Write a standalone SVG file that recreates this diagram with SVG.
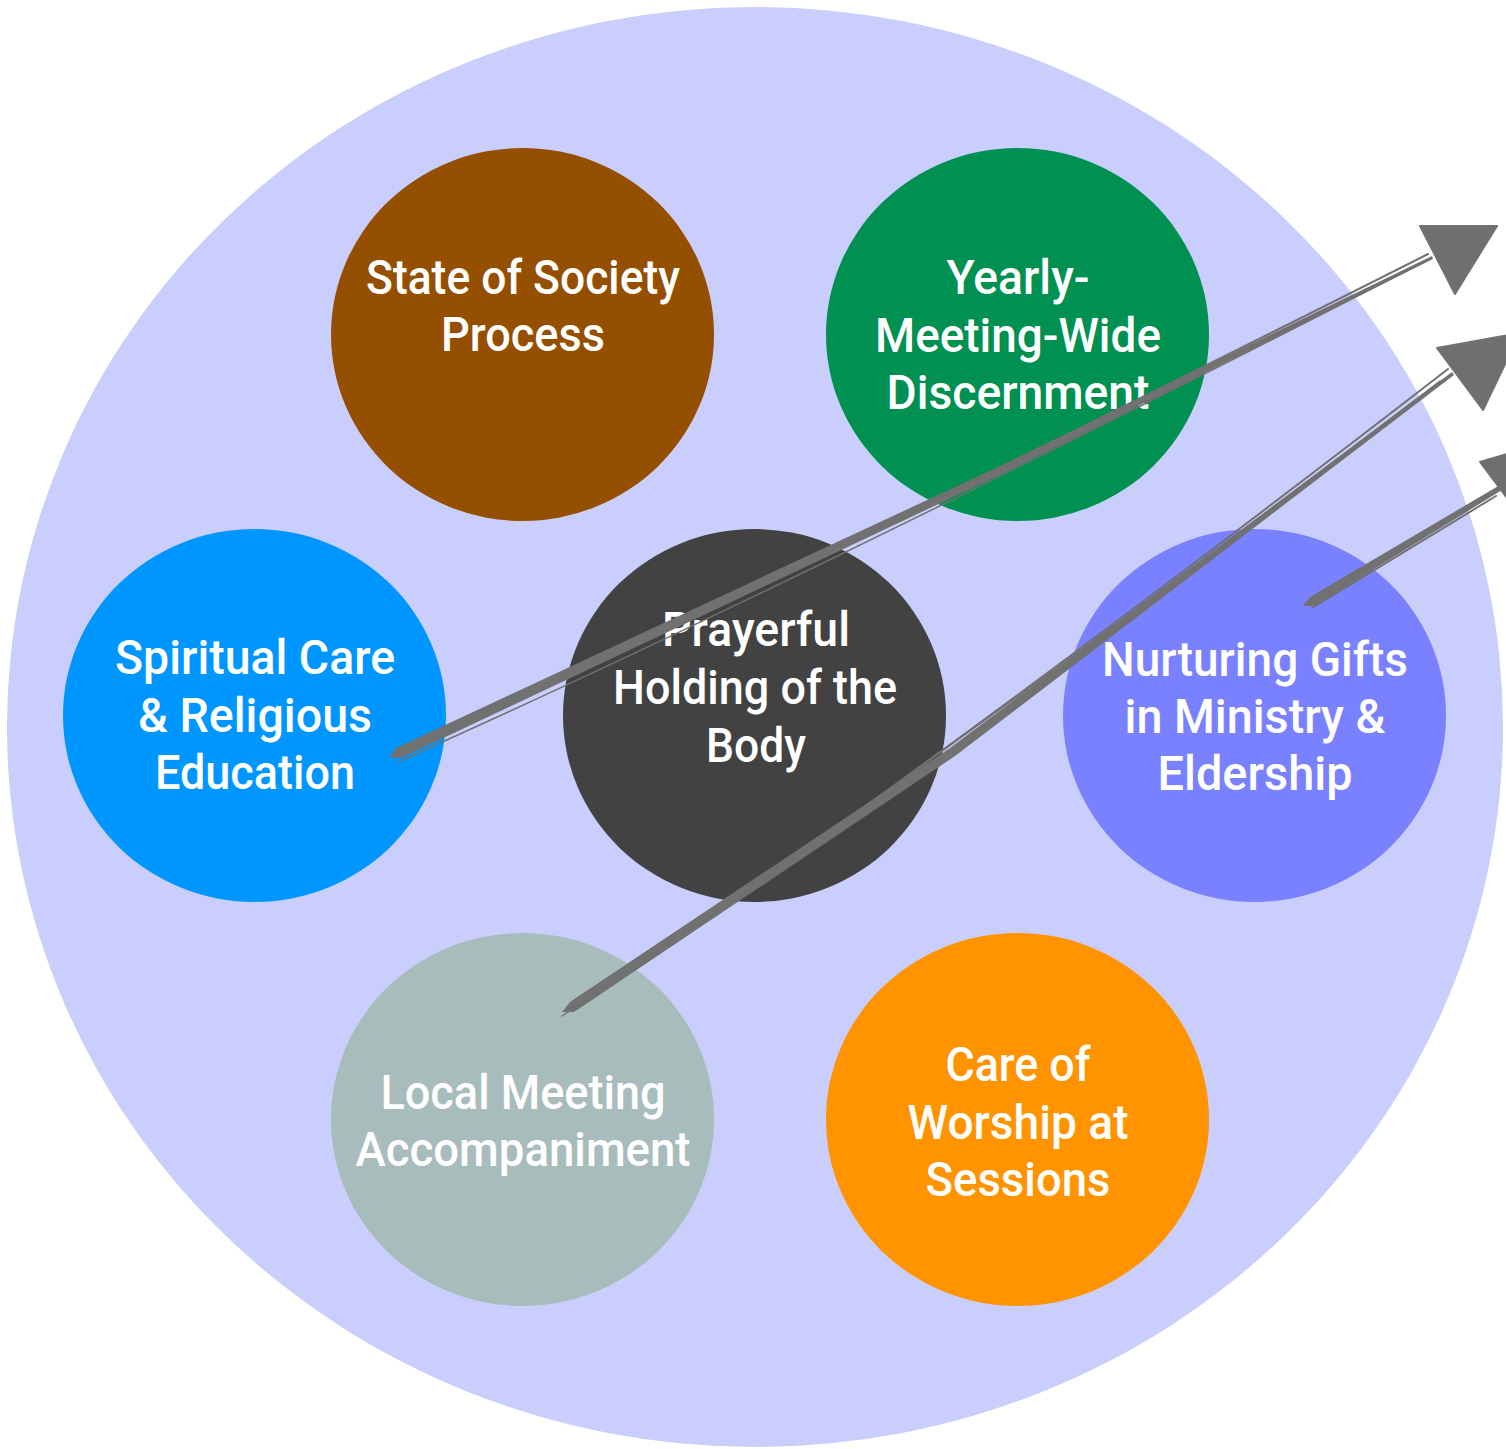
<svg xmlns="http://www.w3.org/2000/svg" width="1506" height="1449" viewBox="0 0 1506 1449">
<style>
.t{font-family:Roboto,"DejaVu Sans",sans-serif;font-weight:500;font-size:48px;fill:#ffffff;text-anchor:middle}
.ln{fill:none;stroke:#717171;stroke-linecap:round}
.tp{fill:#717171;stroke:none}
.ah{fill:#6f6f6f;stroke:#717171;stroke-width:2;stroke-linejoin:round}
</style>
<rect width="1506" height="1449" fill="#ffffff"/>
<ellipse id="outer" cx="755" cy="727" rx="748" ry="720" fill="#cacefd"/>
<g id="n-state"><ellipse cx="522.5" cy="334.5" rx="191.5" ry="186.5" fill="#944f00"/>
<text class="t" x="523" y="294" textLength="314" lengthAdjust="spacingAndGlyphs">State of Society</text>
<text class="t" x="523" y="351" textLength="164" lengthAdjust="spacingAndGlyphs">Process</text></g>
<g id="n-yearly"><ellipse cx="1017.5" cy="334.5" rx="191.5" ry="186.5" fill="#009051"/>
<text class="t" x="1018" y="294" textLength="143" lengthAdjust="spacingAndGlyphs">Yearly-</text>
<text class="t" x="1018" y="352" textLength="286" lengthAdjust="spacingAndGlyphs">Meeting-Wide</text>
<text class="t" x="1018" y="409" textLength="263" lengthAdjust="spacingAndGlyphs">Discernment</text></g>
<g id="n-spiritual"><ellipse cx="254.5" cy="715.5" rx="191.5" ry="186.5" fill="#0096ff"/>
<text class="t" x="255" y="674" textLength="280" lengthAdjust="spacingAndGlyphs">Spiritual Care</text>
<text class="t" x="255" y="732" textLength="234" lengthAdjust="spacingAndGlyphs">&amp; Religious</text>
<text class="t" x="255" y="789" textLength="200" lengthAdjust="spacingAndGlyphs">Education</text></g>
<g id="n-prayerful"><ellipse cx="754.5" cy="715.5" rx="191.5" ry="186.5" fill="#424242"/>
<text class="t" x="756" y="646" textLength="188" lengthAdjust="spacingAndGlyphs">Prayerful</text>
<text class="t" x="755" y="704" textLength="284" lengthAdjust="spacingAndGlyphs">Holding of the</text>
<text class="t" x="756" y="762" textLength="100" lengthAdjust="spacingAndGlyphs">Body</text></g>
<g id="n-nurturing"><ellipse cx="1254.5" cy="715.5" rx="191.5" ry="186.5" fill="#7a81ff"/>
<text class="t" x="1255" y="676" textLength="306" lengthAdjust="spacingAndGlyphs">Nurturing Gifts</text>
<text class="t" x="1255" y="733" textLength="261" lengthAdjust="spacingAndGlyphs">in Ministry &amp;</text>
<text class="t" x="1255" y="790" textLength="195" lengthAdjust="spacingAndGlyphs">Eldership</text></g>
<g id="n-local"><ellipse cx="522.5" cy="1119.5" rx="191.5" ry="186.5" fill="#a9bcbc"/>
<text class="t" x="523" y="1109" textLength="285" lengthAdjust="spacingAndGlyphs">Local Meeting</text>
<text class="t" x="523" y="1166" textLength="335" lengthAdjust="spacingAndGlyphs">Accompaniment</text></g>
<g id="n-worship"><ellipse cx="1017.5" cy="1119.5" rx="191.5" ry="186.5" fill="#ff9300"/>
<text class="t" x="1018" y="1081" textLength="145" lengthAdjust="spacingAndGlyphs">Care of</text>
<text class="t" x="1018" y="1139" textLength="221" lengthAdjust="spacingAndGlyphs">Worship at</text>
<text class="t" x="1018" y="1196" textLength="185" lengthAdjust="spacingAndGlyphs">Sessions</text></g>
<g id="connectors">
<polygon class="tp" points="389,757 396,748 1000,466 1432,256 1433,259 1002,474 401,758"/>
<path class="ln" stroke-width="2" d="M405,752 Q810,566 1428,254"/>
<path class="ln" stroke-width="1.5" d="M398,762 Q805,580 1420,264"/>
<polygon class="ah" points="1420,226 1497,226 1455,294"/>
<polygon class="tp" points="562,1012 570,1002 950,748 1452,372 1454,375 955,756 574,1012"/>
<path class="ln" stroke-width="2" d="M578,1008 Q940,762 1448,369"/>
<path class="ln" stroke-width="1.5" d="M562,1016 Q930,770 1440,381"/>
<polygon class="ah" points="1437,348 1520,333 1483,410"/>
<polygon class="tp" points="1303,606 1310,597 1500,485 1502,490 1314,606"/>
<path class="ln" stroke-width="2" d="M1312,608 L1496,496"/>
<polygon class="ah" points="1480,462 1560,438 1525,522"/>
</g>
</svg>
